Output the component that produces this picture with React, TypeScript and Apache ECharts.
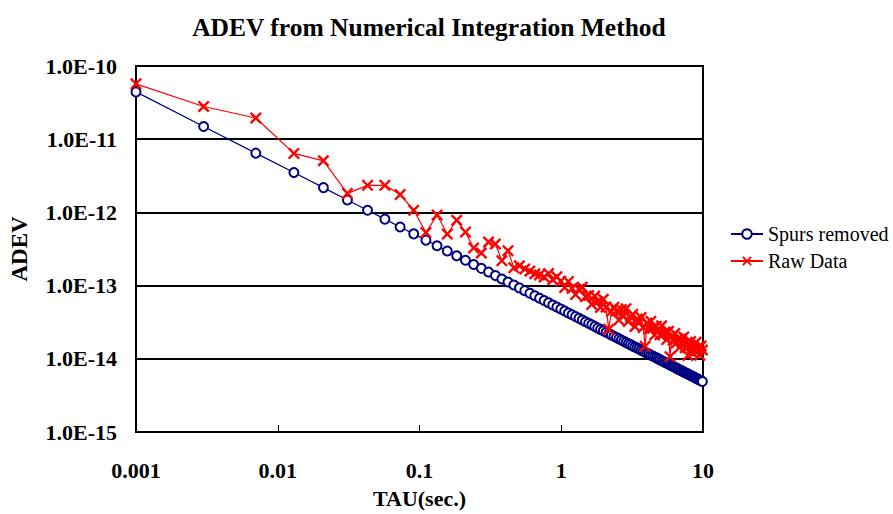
import React, { useEffect, useRef } from "react";
import * as echarts from "echarts";

const TAU = [
  0.001, 0.003, 0.007, 0.013, 0.021, 0.031, 0.043, 0.057, 0.073, 0.091,
  0.111, 0.133, 0.157, 0.183, 0.211, 0.241, 0.273, 0.307, 0.343, 0.381,
  0.421, 0.463, 0.507, 0.553, 0.601, 0.651, 0.703, 0.757, 0.813, 0.871,
  0.931, 0.993, 1.057, 1.123, 1.191, 1.261, 1.333, 1.407, 1.483, 1.561,
  1.641, 1.723, 1.807, 1.893, 1.981, 2.071, 2.163, 2.257, 2.353, 2.451,
  2.551, 2.653, 2.757, 2.863, 2.971, 3.081, 3.193, 3.307, 3.423, 3.541,
  3.661, 3.783, 3.907, 4.033, 4.161, 4.291, 4.423, 4.557, 4.693, 4.831,
  4.971, 5.113, 5.257, 5.403, 5.551, 5.701, 5.853, 6.007, 6.163, 6.321,
  6.481, 6.643, 6.807, 6.973, 7.141, 7.311, 7.483, 7.657, 7.833, 8.011,
  8.191, 8.373, 8.557, 8.743, 8.931, 9.121, 9.313, 9.507, 9.703, 9.901,
];

const SPURS_REMOVED = [
  4.43e-11, 1.49e-11, 6.45e-12, 3.5e-12, 2.18e-12, 1.48e-12, 1.07e-12, 8.09e-13, 6.33e-13, 5.09e-13,
  4.18e-13, 3.5e-13, 2.97e-13, 2.55e-13, 2.22e-13, 1.94e-13, 1.72e-13, 1.53e-13, 1.37e-13, 1.23e-13,
  1.12e-13, 1.02e-13, 9.3e-14, 8.53e-14, 7.86e-14, 7.26e-14, 6.73e-14, 6.25e-14, 5.83e-14, 5.44e-14,
  5.09e-14, 4.78e-14, 4.49e-14, 4.23e-14, 3.99e-14, 3.77e-14, 3.57e-14, 3.39e-14, 3.21e-14, 3.05e-14,
  2.91e-14, 2.77e-14, 2.64e-14, 2.52e-14, 2.41e-14, 2.31e-14, 2.21e-14, 2.12e-14, 2.03e-14, 1.95e-14,
  1.88e-14, 1.81e-14, 1.74e-14, 1.67e-14, 1.61e-14, 1.56e-14, 1.5e-14, 1.45e-14, 1.4e-14, 1.36e-14,
  1.31e-14, 1.27e-14, 1.23e-14, 1.19e-14, 1.16e-14, 1.12e-14, 1.09e-14, 1.06e-14, 1.03e-14, 9.98e-15,
  9.7e-15, 9.43e-15, 9.18e-15, 8.93e-15, 8.7e-15, 8.47e-15, 8.25e-15, 8.04e-15, 7.84e-15, 7.65e-15,
  7.46e-15, 7.28e-15, 7.11e-15, 6.94e-15, 6.78e-15, 6.62e-15, 6.47e-15, 6.33e-15, 6.18e-15, 6.05e-15,
  5.92e-15, 5.79e-15, 5.67e-15, 5.55e-15, 5.43e-15, 5.32e-15, 5.21e-15, 5.1e-15, 5.0e-15, 4.9e-15,
];

const RAW_DATA = [
  5.7e-11, 2.8e-11, 1.95e-11, 6.4e-12, 5.07e-12, 1.82e-12, 2.34e-12, 2.34e-12, 1.75e-12, 1.07e-12,
  5.3e-13, 9.2e-13, 5.06e-13, 7.8e-13, 5.38e-13, 3.27e-13, 2.79e-13, 3.94e-13, 3.7e-13, 2.19e-13,
  3.0e-13, 1.75e-13, 1.86e-13, 1.69e-13, 1.58e-13, 1.45e-13, 1.4e-13, 1.31e-13, 1.46e-13, 1.2e-13,
  1.32e-13, 1.15e-13, 9.43e-14, 1.14e-13, 9.18e-14, 7.54e-14, 8.93e-14, 9.49e-14, 7.06e-14, 7.32e-14,
  5.53e-14, 7.2e-14, 6.07e-14, 5.04e-14, 6.51e-14, 5.08e-14, 2.54e-14, 4.45e-14, 5.08e-14, 4.49e-14,
  3.38e-14, 4.71e-14, 3.83e-14, 4.84e-14, 3.22e-14, 3.74e-14, 4.05e-14, 2.76e-14, 3.5e-14, 3.13e-14,
  3.67e-14, 2.67e-14, 1.48e-14, 3.09e-14, 2.55e-14, 3.25e-14, 2.62e-14, 2.12e-14, 2.78e-14, 2.5e-14,
  2.13e-14, 2.83e-14, 2.2e-14, 2.32e-14, 1.83e-14, 2.37e-14, 1.07e-14, 2.01e-14, 1.8e-14, 2.22e-14,
  1.64e-14, 1.89e-14, 1.42e-14, 1.87e-14, 1.63e-14, 1.99e-14, 1.42e-14, 1.65e-14, 1.11e-14, 1.51e-14,
  1.72e-14, 1.22e-14, 1.53e-14, 1.28e-14, 1.68e-14, 1.28e-14, 1.46e-14, 1.12e-14, 1.5e-14, 1.32e-14,
];

const SERIES_NAMES = ["Spurs removed", "Raw Data"];
const TITLE = "ADEV from Numerical Integration Method";
const X_NAME = "TAU(sec.)";
const Y_NAME = "ADEV";

const FONT = "Liberation Serif, serif";
const X_MARK =
  "path://M0,1.4L1.4,0L5,3.6L8.6,0L10,1.4L6.4,5L10,8.6L8.6,10L5,6.4L1.4,10L0,8.6L3.6,5Z";

export default function App() {
  const ref = useRef<HTMLDivElement>(null);

  useEffect(() => {
    if (!ref.current) return;
    const chart = echarts.init(ref.current, null, { renderer: "svg" });
    const blue = TAU.map((t, i) => [t, SPURS_REMOVED[i]]);
    const red = TAU.map((t, i) => [t, RAW_DATA[i]]);
    chart.setOption({
      animation: false,
      backgroundColor: "#fff",
      title: {
        text: TITLE,
        left: 424,
        textAlign: "center",
        top: 9,
        textStyle: { fontFamily: FONT, fontSize: 25.5, fontWeight: "bold", color: "#000" },
      },
      legend: {
        orient: "vertical",
        left: 725,
        top: 219,
        itemWidth: 32,
        itemHeight: 12,
        itemGap: 7,
        textStyle: { fontFamily: FONT, fontSize: 20, color: "#000" },
        data: SERIES_NAMES,
      },
      grid: {
        left: 136,
        right: 190,
        top: 66,
        bottom: 80,
        show: true,
        borderColor: "#000",
        borderWidth: 2,
        backgroundColor: "transparent",
      },
      xAxis: {
        type: "log",
        logBase: 10,
        min: 0.001,
        max: 10,
        name: X_NAME,
        nameLocation: "middle",
        nameGap: 55,
        nameTextStyle: { fontFamily: FONT, fontSize: 22, fontWeight: "bold", color: "#000" },
        axisLine: { lineStyle: { color: "#000", width: 2 } },
        axisTick: { show: true, inside: true, length: 7, lineStyle: { color: "#000", width: 1 } },
        splitLine: { show: false },
        axisLabel: {
          margin: 27,
          fontFamily: FONT,
          fontSize: 22,
          fontWeight: "bold",
          color: "#000",
          formatter: (v: number) => String(Number(v.toPrecision(6))),
        },
      },
      yAxis: {
        type: "log",
        logBase: 10,
        min: 1e-15,
        max: 1e-10,
        name: Y_NAME,
        nameLocation: "middle",
        nameRotate: 90,
        nameGap: 105,
        nameTextStyle: { fontFamily: FONT, fontSize: 23, fontWeight: "bold", color: "#000" },
        axisLine: { show: true, lineStyle: { color: "#000", width: 2 } },
        axisTick: { show: false },
        splitLine: { show: true, lineStyle: { color: "#000", width: 2 } },
        axisLabel: {
          margin: 19,
          fontFamily: FONT,
          fontSize: 22,
          fontWeight: "bold",
          color: "#000",
          formatter: (v: number) => "1.0E" + Math.round(Math.log10(v)),
        },
      },
      series: [
        {
          name: SERIES_NAMES[0],
          type: "line",
          data: blue,
          symbol: "emptyCircle",
          symbolSize: 9,
          showAllSymbol: true,
          lineStyle: { color: "#000080", width: 1.2 },
          itemStyle: { color: "#000080", borderColor: "#000080", borderWidth: 1.3 },
          z: 2,
        },
        {
          name: SERIES_NAMES[1],
          type: "line",
          data: red,
          symbol: X_MARK,
          symbolSize: 12,
          showAllSymbol: true,
          lineStyle: { color: "#ff0000", width: 1.2 },
          itemStyle: { color: "#ff0000" },
          z: 3,
        },
      ],
    });
    return () => chart.dispose();
  }, []);

  return (
    <div
      ref={ref}
      style={{ position: "fixed", left: 0, top: 0, width: 893, height: 514 }}
    />
  );
}
